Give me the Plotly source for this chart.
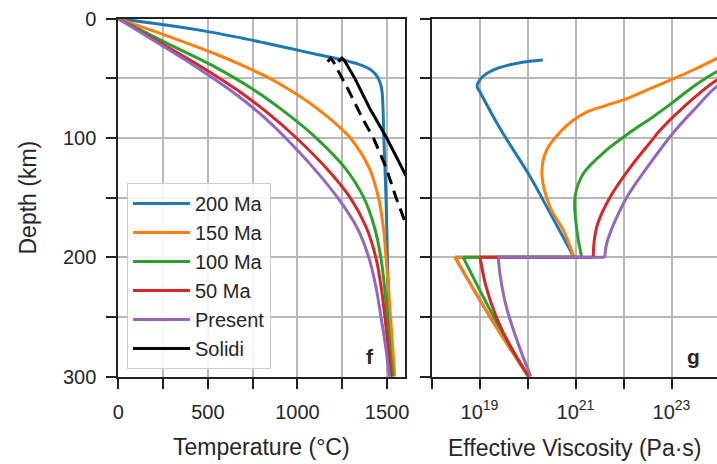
import plotly.graph_objects as go

W, H = 717, 464

# ---------------- data ----------------
labels = ["200 Ma", "150 Ma", "100 Ma", "50 Ma", "Present"]
colors = ["#1f77b4", "#ff7f0e", "#2ca02c", "#d62728", "#9467bd"]

# Temperature profiles (depth km, temperature degC)
t200_depth = [0, 5, 10, 15, 20, 25, 30, 34, 38, 42, 46, 50, 55, 60, 70, 100, 150, 200, 250, 300]
t200_temp = [0, 255, 470, 648, 808, 960, 1110, 1235, 1340, 1400, 1432, 1450, 1464, 1471, 1476, 1482, 1494, 1502, 1511, 1520]

t150_depth = [0, 10, 20, 30, 40, 50, 60, 70, 80, 90, 100, 125, 150, 175, 200, 225, 250, 275, 300]
t150_temp = [0, 190, 375, 550, 705, 845, 960, 1062, 1150, 1228, 1295, 1400, 1452, 1479, 1494, 1507, 1519, 1531, 1543]

t100_depth = [0, 20, 40, 60, 80, 100, 125, 150, 175, 200, 225, 250, 275, 300]
t100_temp = [0, 264, 534, 760, 945, 1105, 1265, 1370, 1430, 1465, 1486, 1501, 1516, 1532]

t50_depth = [0, 20, 40, 60, 80, 100, 125, 150, 175, 200, 225, 250, 275, 300]
t50_temp = [0, 231, 460, 666, 842, 994, 1159, 1294, 1384, 1437, 1467, 1488, 1506, 1522]

t0_depth = [0, 20, 40, 60, 80, 100, 125, 150, 175, 200, 225, 250, 275, 300]
t0_temp = [0, 216, 430, 626, 794, 934, 1089, 1224, 1332, 1398, 1438, 1466, 1492, 1513]

solid_depth = [36, 33, 35, 50, 75, 100, 130, 140]
solid_temp = [1228, 1248, 1262, 1320, 1403, 1498, 1600, 1635]

dash_depth = [36, 33, 36, 60, 85, 100, 125, 150, 170, 180]
dash_temp = [1168, 1185, 1200, 1285, 1368, 1424, 1495, 1550, 1600, 1625]

# Effective viscosity profiles (depth km, log10 viscosity Pa s); the repeated 200 km marks the jump
v200_depth = [34.7, 36.9, 40.8, 45.9, 51, 56.6, 61.4, 93.5, 130, 165, 200, 200, 250, 300]
v200_log = [20.32, 19.84, 19.43, 19.15, 19.01, 18.95, 19.01, 19.45, 20.02, 20.5, 20.97, 18.49, 19.22, 20.02]

v150_depth = [28, 33.3, 43, 51.5, 59.9, 66.9, 72.5, 78.2, 85.1, 95, 110, 130, 158, 177.6, 200, 200, 250, 300]
v150_log = [24.2, 23.94, 23.45, 22.97, 22.48, 22.07, 21.65, 21.23, 20.95, 20.68, 20.4, 20.3, 20.47, 20.75, 20.97, 18.49, 19.22, 20.02]

v100_depth = [38, 44.5, 57, 69.7, 82.1, 93.5, 110, 130, 149.6, 177.6, 200, 200, 250, 300]
v100_log = [24.3, 23.94, 23.45, 23.04, 22.62, 22.2, 21.65, 21.16, 20.99, 21.03, 21.13, 18.66, 19.3, 20.02]

v50_depth = [45, 51.5, 74, 93.5, 100.5, 121.5, 149.6, 172, 186, 200, 200, 225, 250, 275, 300]
v50_log = [24.3, 23.94, 23.25, 22.76, 22.62, 22.2, 21.72, 21.46, 21.39, 21.37, 19.01, 19.14, 19.35, 19.65, 20.03]

v0_depth = [50, 57, 75, 93.5, 121.5, 149.6, 177.6, 190, 200, 200, 215, 235, 250, 275, 300]
v0_log = [24.3, 23.94, 23.5, 23.08, 22.55, 22.07, 21.74, 21.64, 21.61, 19.39, 19.43, 19.52, 19.62, 19.83, 20.07]

temp_major = [0, 500, 1000, 1500]
temp_minor = [250, 750, 1250]
depth_major = [0, 100, 200, 300]
depth_minor = [50, 150, 250]
visc_major_exp = [19, 21, 23]
visc_minor_exp = [18, 20, 22, 24]

# ---------------- figure ----------------
temp_series = [(t200_depth, t200_temp), (t150_depth, t150_temp), (t100_depth, t100_temp),
               (t50_depth, t50_temp), (t0_depth, t0_temp)]
visc_series = [(v200_depth, v200_log), (v150_depth, v150_log), (v100_depth, v100_log),
               (v50_depth, v50_log), (v0_depth, v0_log)]

fig = go.Figure()
LW = 3
SM = 1.0
for i, (d, t) in enumerate(temp_series):
    fig.add_trace(go.Scatter(x=t, y=d, mode="lines", name=labels[i], legendgroup=labels[i],
                             line=dict(color=colors[i], width=LW, shape="spline", smoothing=SM),
                             xaxis="x", yaxis="y"))
fig.add_trace(go.Scatter(x=solid_temp, y=solid_depth, mode="lines", name="Solidi", legendgroup="Solidi",
                         line=dict(color="black", width=LW), xaxis="x", yaxis="y"))
fig.add_trace(go.Scatter(x=dash_temp, y=dash_depth, mode="lines", name="Solidi", showlegend=False,
                         line=dict(color="black", width=LW, dash="12px,7px"), xaxis="x", yaxis="y"))

for i, (d, v) in enumerate(visc_series):
    x = [10.0 ** e for e in v]
    # split at the jump (two consecutive points at the same depth)
    k = next(j for j in range(1, len(d)) if d[j] == d[j - 1])
    parts = [(x[:k], d[:k], "spline"), (x[k - 1:k + 1], d[k - 1:k + 1], "linear"), (x[k:], d[k:], "spline")]
    for px, py, shp in parts:
        ln = dict(color=colors[i], width=LW, shape=shp)
        if shp == "spline":
            ln["smoothing"] = SM
        fig.add_trace(go.Scatter(x=px, y=py, mode="lines", showlegend=False, line=ln,
                                 xaxis="x2", yaxis="y2"))

y0 = (H - 376.7) / H
y1 = (H - 18.7) / H
font = "Liberation Sans, Arial, sans-serif"
tc = "#262626"
grid = "#b8b8b8"
axcol = "#222222"

common = dict(showgrid=True, gridcolor=grid, gridwidth=1.5, zeroline=False,
              showline=True, linecolor=axcol, linewidth=2,
              ticks="outside", ticklen=10, tickwidth=2, tickcolor=axcol,
              tickfont=dict(family=font, size=20, color=tc), automargin=False)


def minor(vals):
    return dict(tickvals=vals, ticks="outside", ticklen=10, tickwidth=2, tickcolor=axcol,
                showgrid=True, gridcolor=grid, gridwidth=1.5)


fig.update_layout(
    width=W, height=H,
    margin=dict(l=0, r=0, t=0, b=0),
    paper_bgcolor="white", plot_bgcolor="white",
    xaxis=dict(domain=[118.3 / W, 405 / W], range=[0, 1600], tickvals=temp_major,
               ticktext=[str(v) for v in temp_major], minor=minor(temp_minor),
               mirror=True, anchor="y", ticklabelstandoff=6, **common),
    yaxis=dict(domain=[y0, y1], range=[300, 0], tickvals=depth_major,
               ticktext=[str(v) for v in depth_major], minor=minor(depth_minor),
               mirror=True, anchor="x", ticklabelstandoff=6, **common),
    xaxis2=dict(domain=[431.5 / W, 1.0], type="log", range=[18, 18 + (W - 431.5) / 48],
                tickvals=[10.0 ** e for e in visc_major_exp],
                ticktext=["10<sup>%d</sup>" % e for e in visc_major_exp],
                minor=minor([10.0 ** e for e in visc_minor_exp]),
                mirror=True, anchor="y2", ticklabelstandoff=6, **common),
    yaxis2=dict(domain=[y0, y1], range=[300, 0], tickvals=depth_major, showticklabels=False,
                minor=minor(depth_minor), mirror=False, anchor="x2", **common),
    legend=dict(x=127 / W, y=1 - 183 / H, xanchor="left", yanchor="top",
                bgcolor="rgba(255,255,255,0.85)", bordercolor="#cccccc", borderwidth=1,
                font=dict(family=font, size=20, color=tc), tracegroupgap=0, itemwidth=57),
    showlegend=True,
)

ann = [
    dict(text="Temperature (°C)", x=261.5 / W, y=1 - 447 / H, size=23, angle=0),
    dict(text="Effective Viscosity (Pa·s)", x=575 / W, y=1 - 448 / H, size=23, angle=0),
    dict(text="Depth (km)", x=27 / W, y=1 - 197.5 / H, size=23, angle=-90),
    dict(text="<b>f</b>", x=370 / W, y=1 - 356 / H, size=21, angle=0),
    dict(text="<b>g</b>", x=693 / W, y=1 - 356 / H, size=21, angle=0),
]
for a in ann:
    fig.add_annotation(text=a["text"], x=a["x"], y=a["y"], xref="paper", yref="paper",
                       xanchor="center", yanchor="middle", showarrow=False, textangle=a["angle"],
                       font=dict(family=font, size=a["size"], color=tc))

fig.write_html("out.html")
